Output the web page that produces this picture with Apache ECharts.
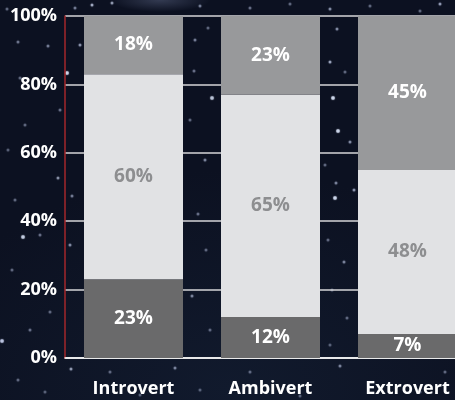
<!DOCTYPE html>
<html>
<head>
<meta charset="utf-8">
<title>Personality types</title>
<script src="https://cdn.jsdelivr.net/npm/echarts@6/dist/echarts.min.js"></script>
<style>
  html, body { margin: 0; padding: 0; }
  body {
    width: 455px; height: 400px; overflow: hidden; position: relative;
    background: radial-gradient(ellipse 50px 12px at 160px 0px, rgba(90,100,130,0.5), rgba(14,19,36,0) 100%),
                radial-gradient(ellipse 320px 220px at 230px 390px, #111a2d, #0c1121 100%);
    background-color: #0c1121;
  }
  .sky { position: absolute; left: -1px; top: -1px; width: 2px; height: 2px; border-radius: 50%; background: transparent; }
  .sky.a {
    box-shadow:
      92px 5px 1px 0.5px rgba(200,210,235,0.9), 75px 8px 1px 0.5px rgba(180,190,220,0.7), 112px 3px 1px 0.5px rgba(200,210,235,0.8),
      18px 42px 1px 0.5px rgba(180,190,220,0.65), 48px 46px 1px 0.5px rgba(180,190,220,0.7), 20px 78px 1px 0.5px rgba(170,180,210,0.6),
      67px 73px 1px 1px rgba(210,220,240,1), 80px 45px 1px 0.5px rgba(190,200,230,0.8), 60px 110px 1px 0.5px rgba(170,180,210,0.65),
      25px 125px 1px 0.5px rgba(170,180,210,0.6), 8px 150px 1px 0.5px rgba(170,180,210,0.55), 58px 178px 1px 0.5px rgba(200,210,235,0.75),
      72px 196px 1px 0.5px rgba(180,190,220,0.7), 15px 200px 1px 0.5px rgba(170,180,210,0.6), 40px 235px 1px 0.5px rgba(170,180,210,0.65),
      23px 237px 1px 1px rgba(210,220,240,0.95), 70px 245px 1px 0.5px rgba(190,200,230,0.75), 12px 270px 1px 0.5px rgba(170,180,210,0.6),
      2px 341px 1px 1px rgba(200,210,240,0.95), 30px 330px 1px 0.5px rgba(170,180,210,0.65), 50px 312px 1px 0.5px rgba(170,180,210,0.6),
      71px 369px 1px 0.5px rgba(200,210,235,0.8), 18px 380px 1px 0.5px rgba(170,180,210,0.6), 45px 392px 1px 0.5px rgba(170,180,210,0.55),
      110px 372px 1px 0.5px rgba(170,180,210,0.6), 140px 395px 1px 0.5px rgba(170,180,210,0.55), 175px 368px 1px 0.5px rgba(190,200,230,0.7),
      200px 390px 1px 0.5px rgba(170,180,210,0.55), 250px 372px 1px 0.5px rgba(170,180,210,0.6), 300px 396px 1px 0.5px rgba(170,180,210,0.55),
      340px 366px 1px 0.5px rgba(190,200,230,0.7), 420px 392px 1px 0.5px rgba(170,180,210,0.55), 445px 372px 1px 0.5px rgba(170,180,210,0.6);
  }
  .sky.b {
    box-shadow:
      195px 40px 1px 0.5px rgba(180,190,220,0.7), 208px 28px 1px 0.5px rgba(170,180,210,0.6), 194px 71px 1px 0.5px rgba(170,180,210,0.65),
      190px 120px 1px 0.5px rgba(170,180,210,0.6), 205px 160px 1px 0.5px rgba(190,200,230,0.7), 212px 98px 1px 1px rgba(210,220,240,0.9),
      198px 214px 1px 0.5px rgba(170,180,210,0.65), 206px 250px 1px 0.5px rgba(170,180,210,0.6), 192px 296px 1px 0.5px rgba(190,200,230,0.7),
      210px 330px 1px 0.5px rgba(170,180,210,0.6), 200px 6px 1px 0.5px rgba(180,190,220,0.7), 250px 8px 1px 0.5px rgba(170,180,210,0.65),
      290px 4px 1px 0.5px rgba(170,180,210,0.6), 330px 9px 1px 0.5px rgba(190,200,230,0.75), 370px 6px 1px 0.5px rgba(170,180,210,0.6),
      440px 4px 1px 0.5px rgba(200,210,240,0.8), 420px 11px 1px 0.5px rgba(170,180,210,0.6), 7px 9px 1px 0.5px rgba(170,180,210,0.6),
      337px 29px 1px 0.5px rgba(190,200,230,0.75), 330px 62px 1px 0.5px rgba(200,210,240,0.85), 345px 72px 1px 0.5px rgba(170,180,210,0.6),
      333px 98px 1px 1px rgba(210,220,240,1), 338px 131px 1px 1px rgba(210,220,240,1), 350px 142px 1px 0.5px rgba(190,200,230,0.75),
      325px 165px 1px 0.5px rgba(170,180,210,0.6), 336px 183px 1px 0.5px rgba(190,200,230,0.7), 354px 190px 1px 0.5px rgba(190,200,230,0.8),
      335px 198px 1px 1px rgba(210,220,240,1), 328px 240px 1px 0.5px rgba(170,180,210,0.6), 344px 262px 1px 0.5px rgba(190,200,230,0.7),
      332px 290px 1px 0.5px rgba(170,180,210,0.6), 347px 318px 1px 0.5px rgba(170,180,210,0.6), 330px 345px 1px 0.5px rgba(170,180,210,0.55);
  }
  /* the canvas is wider than the window, so the last bar runs off the right edge */
  #chart { position: absolute; left: 0; top: 0; width: 480px; height: 400px; }
</style>
</head>
<body>
<div class="sky a"></div>
<div class="sky b"></div>
<div id="chart"></div>
<script>
// Share of each personality type per answer group (percent)
const categories = ['Introvert', 'Ambivert', 'Extrovert'];
const lowValues  = [23, 12, 7];
const midValues  = [60, 65, 48];
const highValues = [18, 23, 45];
const yTicks = [0, 20, 40, 60, 80, 100];

const FONT = '"Open Sans", "DejaVu Sans", sans-serif';

const chart = echarts.init(document.getElementById('chart'), null, { renderer: 'canvas' });

function segment(name, values, color, labelColor) {
  return {
    name: name,
    type: 'bar',
    stack: 'total',
    barWidth: 99,
    data: values,
    itemStyle: { color: color },
    label: {
      show: true,
      position: 'inside',
      formatter: '{c}%',
      color: labelColor,
      fontFamily: FONT,
      fontWeight: 'bold',
      fontSize: 19
    },
    emphasis: { disabled: true }
  };
}

chart.setOption({
  backgroundColor: 'transparent',
  animation: false,
  grid: { left: 65, top: 16, bottom: 42, right: 4, containLabel: false },
  xAxis: {
    type: 'category',
    data: categories,
    axisTick: { show: false },
    axisLine: { show: true, lineStyle: { color: '#ffffff', width: 1.5 } },
    axisLabel: {
      color: '#ffffff',
      fontFamily: FONT,
      fontWeight: 'bold',
      fontSize: 18,
      margin: 22
    }
  },
  yAxis: {
    type: 'value',
    min: yTicks[0],
    max: yTicks[yTicks.length - 1],
    interval: 20,
    axisLine: { show: true, lineStyle: { color: '#a3272b', width: 1.5 } },
    axisTick: { show: false },
    splitLine: { show: true, lineStyle: { color: '#d6d6d8', width: 1.5 } },
    axisLabel: {
      color: '#ffffff',
      fontFamily: FONT,
      fontWeight: 'bold',
      fontSize: 18,
      margin: 8,
      formatter: '{value}%'
    }
  },
  series: [
    segment('Low', lowValues, '#6a6a6b', '#ffffff'),
    segment('Mid', midValues, '#e1e2e4', '#8d8e90'),
    segment('High', highValues, '#98999b', '#ffffff')
  ]
});
</script>
</body>
</html>
